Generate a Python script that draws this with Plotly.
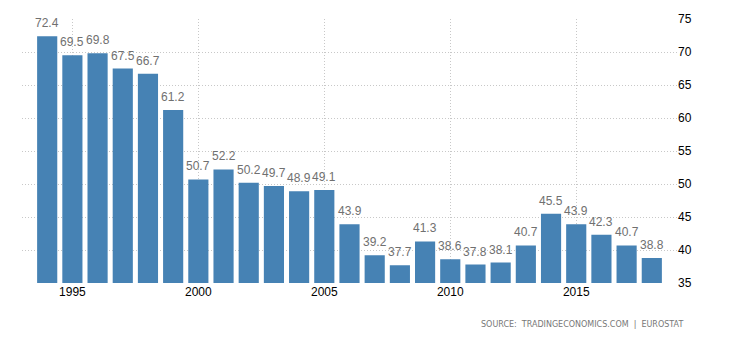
import plotly.graph_objects as go

years = list(range(1994, 2019))
values = [72.4, 69.5, 69.8, 67.5, 66.7, 61.2, 50.7, 52.2, 50.2, 49.7, 48.9, 49.1,
          43.9, 39.2, 37.7, 41.3, 38.6, 37.8, 38.1, 40.7, 45.5, 43.9, 42.3, 40.7, 38.8]
labels = [f"{v:.1f}" for v in values]
x_ticks = [1995, 2000, 2005, 2010, 2015]
y_ticks = [35, 40, 45, 50, 55, 60, 65, 70, 75]

fig = go.Figure()
fig.add_trace(go.Bar(
    x=years, y=values,
    marker=dict(color="#4682B4", line=dict(width=0)),
    hoverinfo="skip",
))

value_annotations = [
    dict(x=yr, y=v, text=t, xref="x", yref="y", showarrow=False,
         xanchor="center", yanchor="bottom", yshift=4,
         font=dict(color="#707070", size=12, family="Liberation Sans"))
    for yr, v, t in zip(years, values, labels)
]

fig.update_layout(
    width=730, height=340,
    margin=dict(l=22, r=53, t=19, b=57),
    plot_bgcolor="white", paper_bgcolor="white",
    bargap=0.2, showlegend=False,
    font=dict(family="Liberation Sans", size=12, color="#000"),
    xaxis=dict(range=[1993, 2019], tickvals=x_ticks, ticktext=[str(t) for t in x_ticks],
               showgrid=True, gridcolor="#c8c8c8", griddash="1px,2px", gridwidth=1,
               zeroline=False, showline=False, ticks="", tickfont=dict(size=12, color="#000")),
    yaxis=dict(range=[35, 75], tickvals=y_ticks, side="right",
               showgrid=True, gridcolor="#c8c8c8", griddash="1px,2px", gridwidth=1,
               zeroline=False, showline=False, ticks="", tickfont=dict(size=12, color="#000")),
    annotations=value_annotations + [dict(
        text="SOURCE:  TRADINGECONOMICS.COM  |  EUROSTAT",
        xref="paper", yref="paper", x=1.012, y=-0.159,
        xanchor="right", yanchor="middle", showarrow=False,
        font=dict(size=8, color="#777777", family="DejaVu Sans"),
    )],
)

fig.write_html("out.html")
